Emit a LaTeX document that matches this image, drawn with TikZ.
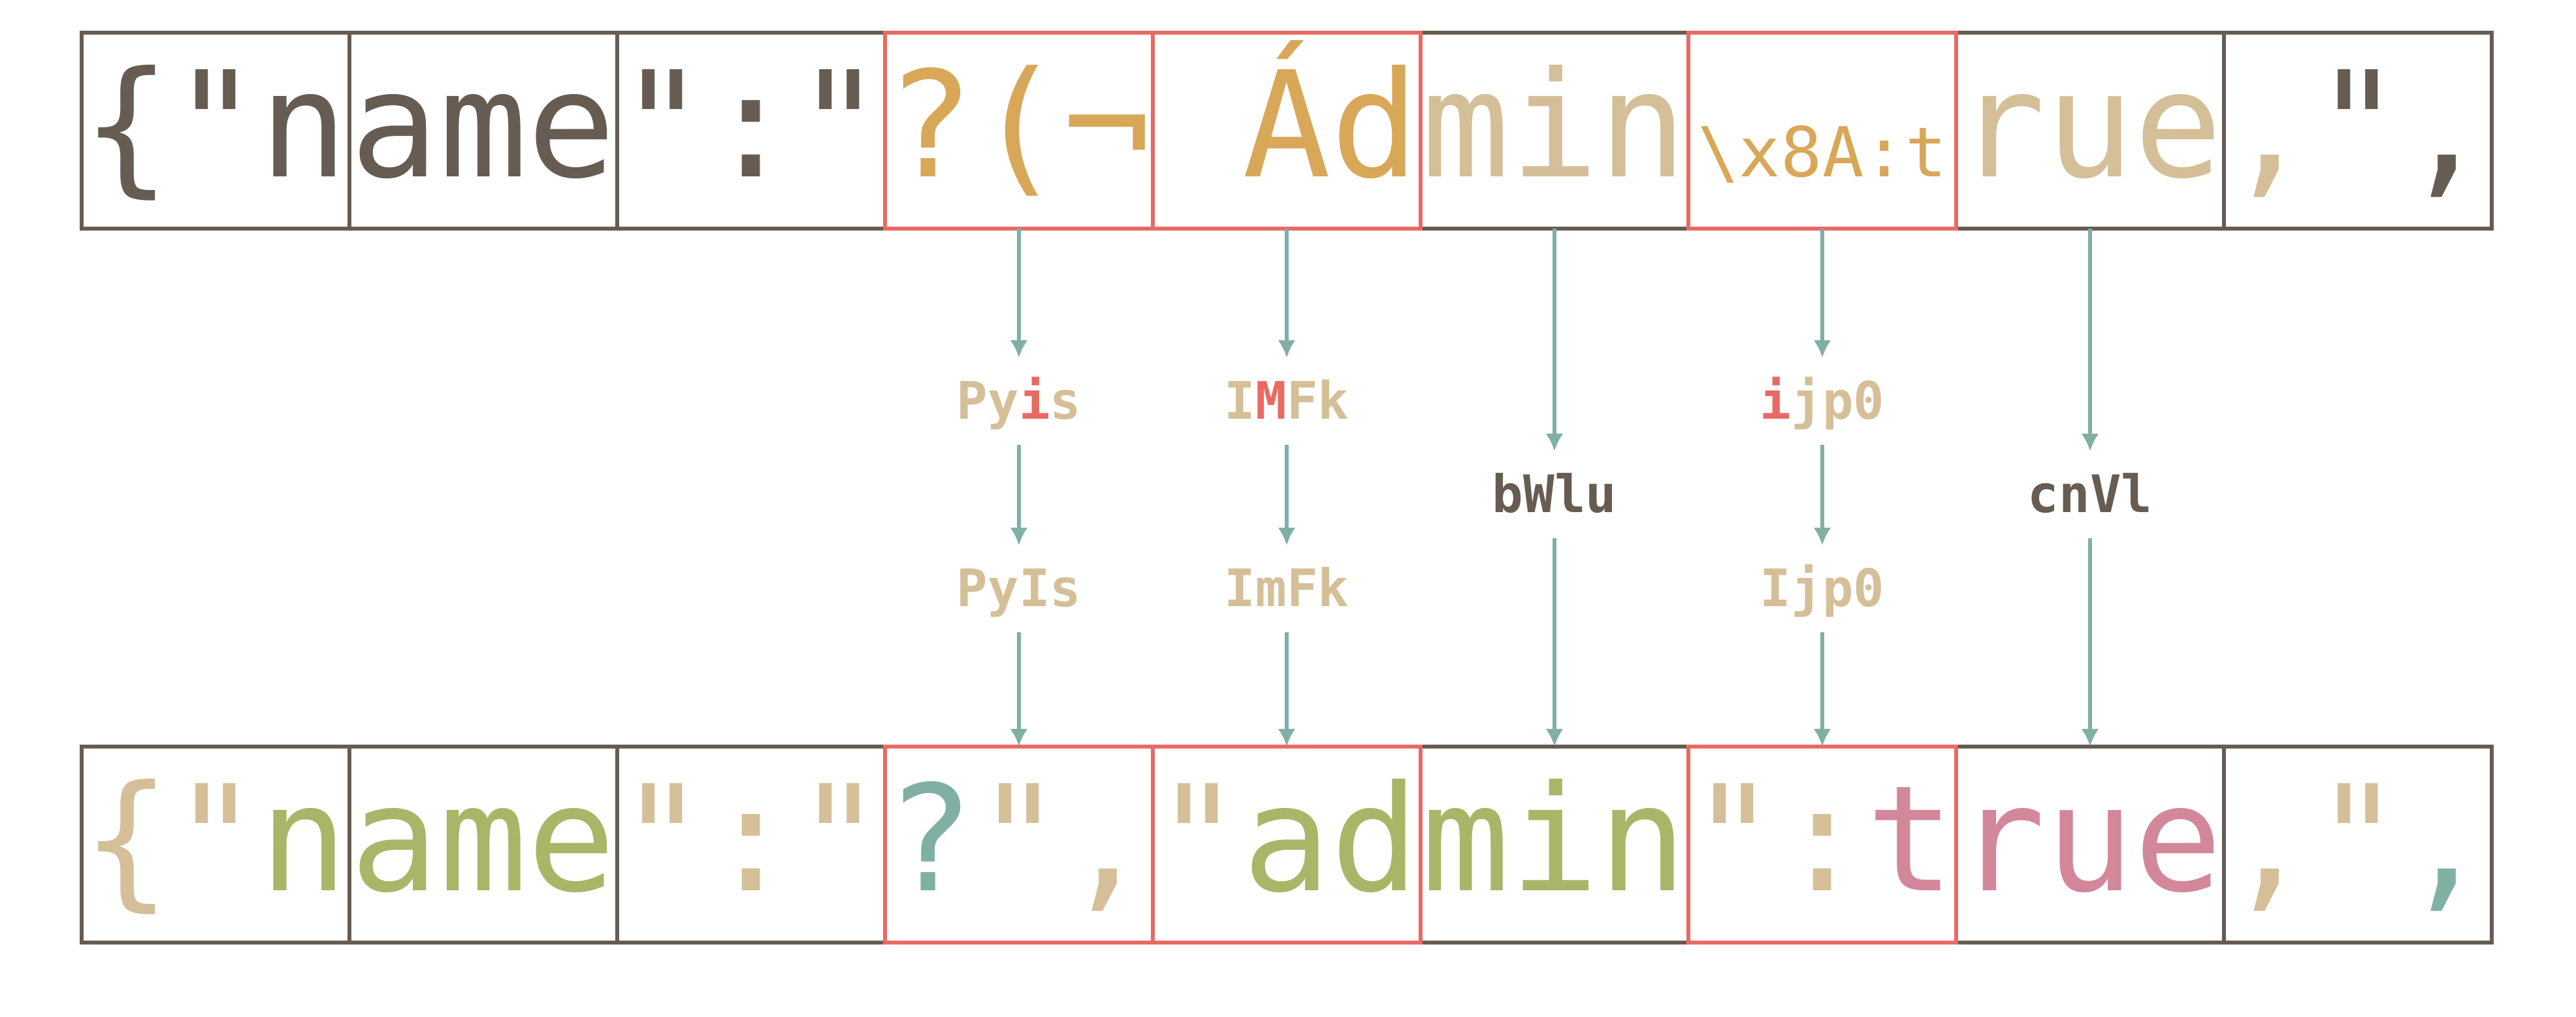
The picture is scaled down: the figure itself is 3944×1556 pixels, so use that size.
\documentclass[tikz,border=0pt]{standalone}
\usepackage{fontspec}
\usetikzlibrary{arrows.meta}
\newfontfamily\codefont{DejaVu Sans Mono}

\definecolor{inkdark}{RGB}{102,92,82}
\definecolor{inkred}{RGB}{233,106,99}
\definecolor{inkteal}{RGB}{127,176,163}
\definecolor{inktan}{RGB}{212,191,152}
\definecolor{inkorange}{RGB}{216,167,88}
\definecolor{inkgreen}{RGB}{169,182,104}
\definecolor{inkpink}{RGB}{211,135,155}

\tikzset{
    cell/.style={draw=inkdark, line width=0.065cm, minimum width=4.1cm, minimum height=3cm,
        inner sep=0pt, outer sep=0pt, text height=1.8cm, text depth=0.4cm, text=inkdark,
        font=\codefont\fontsize{64}{64}\selectfont},
    badcell/.style={cell, draw=inkred},
    hop/.style={font=\codefont\bfseries\fontsize{22.5}{22.5}\selectfont, text=inktan,
        inner sep=0pt, outer sep=0pt, text height=0.93cm, text depth=0.4cm, anchor=base},
    flow/.style={draw=inkteal, line width=0.06cm, -{Latex[length=0.27cm,width=0.27cm]}}
}

\begin{document}
\begin{tikzpicture}[x=0.01cm, y=-0.01cm]
        \useasboundingbox (0,0) rectangle (3944,1556);

        \node[cell] (t1) at (330,200) {\{"n};
        \node[cell] (t2) at (740,200) {ame};
        \node[cell] (t3) at (1150,200) {":"};
        \node[cell, text=inktan] (t6) at (2380,200) {min};
        \node[cell, text=inktan] (t8) at (3200,200) {rue};
        \node[cell] (t9) at (3610,200) {\textcolor{inktan}{,}",};
        \node[badcell, text=inkorange] (t4) at (1560,200) {?(¬};
        \node[badcell, text=inkorange] (t5) at (1970,200) {\phantom{d}Ád};
        \node[badcell, text=inkorange] (t7) at (2790,200) {\fontsize{30}{30}\selectfont\textbackslash x8A:t};

        \node[cell] (b1) at (330,1293) {\textcolor{inktan}{\{"}\textcolor{inkgreen}{n}};
        \node[cell, text=inkgreen] (b2) at (740,1293) {ame};
        \node[cell, text=inktan] (b3) at (1150,1293) {":"};
        \node[cell, text=inkgreen] (b6) at (2380,1293) {min};
        \node[cell, text=inkpink] (b8) at (3200,1293) {rue};
        \node[cell, text=inktan] (b9) at (3610,1293) {,"\textcolor{inkteal}{,}};
        \node[badcell, text=inktan] (b4) at (1560,1293) {\textcolor{inkteal}{?}",};
        \node[badcell, text=inktan] (b5) at (1970,1293) {"\textcolor{inkgreen}{ad}};
        \node[badcell, text=inktan] (b7) at (2790,1293) {":\textcolor{inkpink}{t}};

        \node[hop] (m4a) at (1560,641) {Py\textcolor{inkred}{i}s};
        \node[hop] (m4b) at (1560,928) {PyIs};
        \node[hop] (m5a) at (1970,641) {I\textcolor{inkred}{M}Fk};
        \node[hop] (m5b) at (1970,928) {ImFk};
        \node[hop, text=inkdark] (m6) at (2380,784) {bWlu};
        \node[hop] (m7a) at (2790,641) {\textcolor{inkred}{i}jp0};
        \node[hop] (m7b) at (2790,928) {Ijp0};
        \node[hop, text=inkdark] (m8) at (3200,784) {cnVl};

        \draw[flow] (t4) -- (m4a);
        \draw[flow] (m4a) -- (m4b);
        \draw[flow] (m4b) -- (b4);
        \draw[flow] (t5) -- (m5a);
        \draw[flow] (m5a) -- (m5b);
        \draw[flow] (m5b) -- (b5);
        \draw[flow] (t6) -- (m6);
        \draw[flow] (m6) -- (b6);
        \draw[flow] (t7) -- (m7a);
        \draw[flow] (m7a) -- (m7b);
        \draw[flow] (m7b) -- (b7);
        \draw[flow] (t8) -- (m8);
        \draw[flow] (m8) -- (b8);

\end{tikzpicture}
\end{document}
